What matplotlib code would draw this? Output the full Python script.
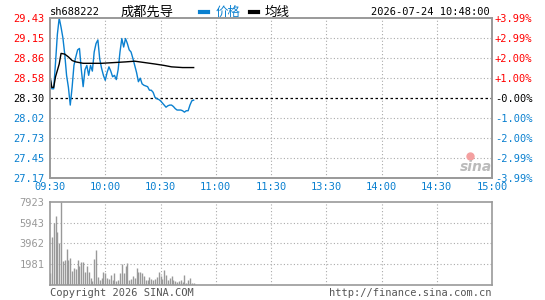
import matplotlib
matplotlib.use('Agg')
import matplotlib.pyplot as plt
import numpy as np

plt.rcParams['font.family'] = ['DejaVu Sans Mono', 'Noto Sans CJK SC']

symbol = 'sh688222'
name = '成都先导'
timestamp = '2026-07-24 10:48:00'
prev_close = 28.30

# one value per minute from 09:30 to 10:48
price = [28.60, 28.43, 28.43, 28.80, 29.20, 29.43, 29.30, 29.15, 28.92, 28.62,
         28.45, 28.20, 28.45, 28.76, 28.88, 28.98, 29.00, 28.70, 28.46, 28.70,
         28.76, 28.62, 28.76, 28.68, 28.95, 29.07, 29.12, 28.85, 28.72, 28.62,
         28.55, 28.66, 28.74, 28.68, 28.60, 28.62, 28.56, 28.70, 28.95, 29.14,
         29.02, 29.14, 29.07, 28.98, 28.95, 28.86, 28.76, 28.66, 28.53, 28.58,
         28.50, 28.48, 28.47, 28.46, 28.41, 28.41, 28.38, 28.31, 28.29, 28.28,
         28.26, 28.23, 28.20, 28.17, 28.19, 28.20, 28.20, 28.18, 28.15, 28.13,
         28.13, 28.13, 28.12, 28.10, 28.12, 28.12, 28.20, 28.26, 28.27]

avg_minute = [0, 1, 2, 3, 4, 5, 6, 8, 10, 12, 14, 18, 28, 41, 46, 57, 62, 66, 72, 78]
avg_price = [28.60, 28.45, 28.45, 28.60, 28.69, 28.78, 28.93, 28.92, 28.88, 28.83,
             28.81, 28.79, 28.79, 28.81, 28.82, 28.78, 28.76, 28.74, 28.73, 28.73]

volume = [1170, 4550, 5950, 6590, 5060, 3980, 7923, 2290, 2355, 3435,
          2355, 2610, 1340, 1650, 1530, 2390, 1850, 2200, 2200, 1240,
          1810, 1240, 700, 350, 2450, 3340, 800, 450, 670, 1240,
          1170, 670, 575, 990, 480, 1170, 350, 480, 1170, 2000,
          1150, 1780, 2070, 480, 540, 890, 670, 1590, 1270, 1210,
          1120, 890, 480, 510, 800, 600, 480, 540, 800, 1270,
          830, 600, 1460, 950, 480, 670, 860, 480, 380, 320,
          410, 510, 290, 930, 220, 480, 640, 190, 160]

price_ticks = [29.43, 29.15, 28.86, 28.58, 28.30, 28.02, 27.73, 27.45, 27.17]
pct_labels = ['+3.99%', '+2.99%', '+2.00%', '+1.00%', '-0.00%',
              '-1.00%', '-2.00%', '-2.99%', '-3.99%']
time_labels = ['09:30', '10:00', '10:30', '11:00', '11:30',
               '13:30', '14:00', '14:30', '15:00']
vol_ticks = [1981, 3962, 5943, 7923]

RED = '#FF0000'
BLUE = '#0A80D0'
GREY = '#999999'
FS = 7.5


def _label_color(t):
    if t > prev_close:
        return RED
    if t == prev_close:
        return 'black'
    return BLUE


fig = plt.figure(figsize=(5.45, 3.0), dpi=100)
ax = fig.add_axes([50 / 545, 1 - 178 / 300, 442 / 545, 160 / 300])
axv = fig.add_axes([50 / 545, 1 - 285 / 300, 442 / 545, 83 / 300])

x = np.arange(len(price))

# price panel
ax.set_xlim(0, 240)
ax.set_ylim(price_ticks[-1], price_ticks[0])
for t in price_ticks[1:-1]:
    if t == prev_close:
        continue
    ax.axhline(t, color='#AAAAAA', lw=0.8, ls=(0, (1, 2)))
for m in range(30, 240, 30):
    ax.axvline(m, color='#AAAAAA', lw=0.8, ls=(0, (1, 2)))
ax.axhline(prev_close, color='black', lw=0.9, ls=(0, (2, 2)))
ax.plot(x, price, color=BLUE, lw=1.0)
ax.plot(avg_minute, avg_price, color='black', lw=1.0)

ax.set_yticks(price_ticks)
ax.set_yticklabels([f'{t:.2f}' for t in price_ticks])
for lab, t in zip(ax.get_yticklabels(), price_ticks):
    lab.set_color(_label_color(t))
ax.tick_params(axis='y', length=0, pad=4, labelsize=FS)

axr = ax.twinx()
axr.set_ylim(ax.get_ylim())
axr.set_yticks(price_ticks)
axr.set_yticklabels(pct_labels)
for lab, t in zip(axr.get_yticklabels(), price_ticks):
    lab.set_color(_label_color(t))
axr.tick_params(axis='y', length=0, pad=2, labelsize=FS)

ax.set_xticks(range(0, 241, 30))
ax.set_xticklabels(time_labels, color=BLUE)
ax.tick_params(axis='x', length=0, pad=3, labelsize=FS)

for a in (ax, axr, axv):
    for s in a.spines.values():
        s.set_color(GREY)
        s.set_linewidth(1.2)

# volume panel
axv.set_xlim(0, 240)
axv.set_ylim(0, vol_ticks[-1])
for t in vol_ticks[:-1]:
    axv.axhline(t, color='#AAAAAA', lw=0.8, ls=(0, (1, 2)))
for m in range(30, 240, 30):
    axv.axvline(m, color='#AAAAAA', lw=0.8, ls=(0, (1, 2)))
axv.vlines(x, 0, volume, color=GREY, lw=1.0)
axv.set_yticks(vol_ticks)
axv.set_yticklabels([str(t) for t in vol_ticks], color=GREY)
axv.tick_params(axis='y', length=0, pad=4, labelsize=FS)
axv.set_xticks([])

# header texts
ty = 1 - 12 / 300
fig.text(50 / 545, ty, symbol, fontsize=FS, va='center', ha='left')
fig.text(121 / 545, ty, name, fontsize=9.5, va='center', ha='left',
         family=['Noto Sans CJK SC'])
fig.add_artist(plt.Line2D([200 / 545, 208 / 545], [ty, ty], color=BLUE, lw=3))
fig.text(216 / 545, ty, '价格', color=BLUE, fontsize=9, va='center',
         family=['Noto Sans CJK SC'])
fig.add_artist(plt.Line2D([250 / 545, 258 / 545], [ty, ty], color='black', lw=3))
fig.text(265 / 545, ty, '均线', color='black', fontsize=9, va='center',
         family=['Noto Sans CJK SC'])
fig.text(490 / 545, ty, timestamp, fontsize=FS, va='center', ha='right')

# footer
fig.text(50 / 545, 1 - 293 / 300, 'Copyright 2026 SINA.COM', fontsize=FS,
         color='#555555', va='center', ha='left')
fig.text(492 / 545, 1 - 293 / 300, 'http://finance.sina.com.cn', fontsize=FS,
         color='#555555', va='center', ha='right')

# watermark
fig.text(476 / 545, 1 - 167 / 300, 'sina', fontsize=10, color='#BBBBBB',
         style='italic', weight='bold', ha='center', va='center',
         family=['DejaVu Sans'])
fig.add_artist(plt.Line2D([470 / 545], [1 - 156 / 300], marker='o', ms=5,
                          color='#F4A0A0', lw=0))

fig.savefig('out.png', dpi=100)
